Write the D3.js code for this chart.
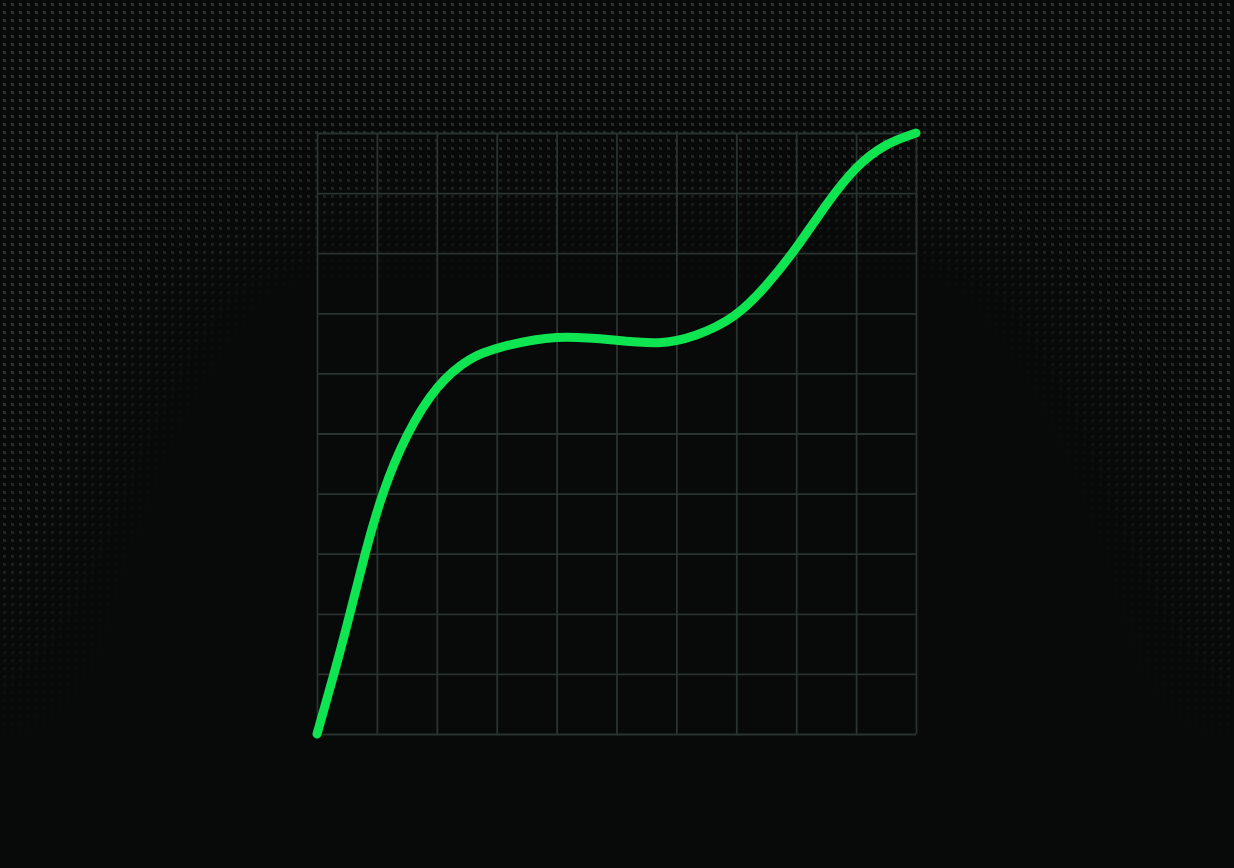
<!DOCTYPE html>
<html>
<head>
<meta charset="utf-8">
<script src="https://cdn.jsdelivr.net/npm/d3@7"></script>
<style>
  html, body { margin: 0; padding: 0; background: #080909; }
  svg { display: block; }
</style>
</head>
<body>
<div id="chart"></div>
<script>
// curve samples (grid units, 0..10 on both axes)
var xValues = [0, 0.35, 0.55, 0.8, 1.08, 1.49, 2.0, 2.55, 3, 4, 5, 5.72, 6.3, 7, 7.5, 8, 8.5, 9, 9.5, 10];
var yValues = [0, 1.23, 2.0, 3.0, 4.0, 5.0, 5.82, 6.27, 6.43, 6.65, 6.55, 6.48, 6.6, 6.93, 7.45, 8.07, 8.82, 9.46, 9.83, 10];
var gridTicks = [0, 1, 2, 3, 4, 5, 6, 7, 8, 9, 10];

var W = 1234, H = 868;
var margin = {top: 133, right: 318, bottom: 134, left: 317}
    , width = W - margin.left - margin.right
    , height = H - margin.top - margin.bottom;

var svg = d3.select('#chart')
    .append('svg')
    .attr('width', W)
    .attr('height', H);

var defs = svg.append('defs');

// dotted backdrop
var pat = defs.append('pattern')
    .attr('id', 'dots')
    .attr('patternUnits', 'userSpaceOnUse')
    .attr('width', 8)
    .attr('height', 8);
pat.append('rect')
    .attr('x', 3).attr('y', 3).attr('width', 3).attr('height', 3)
    .attr('fill', '#2b3432');

// fade from the top
var lin = defs.append('linearGradient')
    .attr('id', 'topFade')
    .attr('gradientUnits', 'userSpaceOnUse')
    .attr('x1', 0).attr('y1', 0).attr('x2', 0).attr('y2', H);
[[0, 1], [0.1, 1], [0.2, 0.55], [0.34, 0]].forEach(function (s) {
    lin.append('stop').attr('offset', s[0]).attr('stop-color', '#fff').attr('stop-opacity', s[1]);
});

// hole in the middle, dots kept at the sides
var rad = defs.append('radialGradient')
    .attr('id', 'sideFade')
    .attr('gradientUnits', 'userSpaceOnUse')
    .attr('cx', 617).attr('cy', 760).attr('r', 714)
    .attr('gradientTransform', 'translate(617,760) scale(1,1.245) translate(-617,-760)');
[[0, 0], [0.7, 0], [0.82, 0.45], [0.95, 1], [1, 1]].forEach(function (s) {
    rad.append('stop').attr('offset', s[0]).attr('stop-color', '#fff').attr('stop-opacity', s[1]);
});

var mask1 = defs.append('mask').attr('id', 'dotMask')
    .attr('maskUnits', 'userSpaceOnUse')
    .attr('x', 0).attr('y', 0).attr('width', W).attr('height', H);
mask1.append('rect').attr('width', W).attr('height', H).attr('fill', '#000');
mask1.append('rect').attr('width', W).attr('height', H).attr('fill', 'url(#topFade)');
mask1.append('rect').attr('width', W).attr('height', H).attr('fill', 'url(#sideFade)');

// fade out toward the bottom
var bot = defs.append('linearGradient')
    .attr('id', 'botFade')
    .attr('gradientUnits', 'userSpaceOnUse')
    .attr('x1', 0).attr('y1', 0).attr('x2', 0).attr('y2', H);
[[0, 1], [0.58, 1], [0.88, 0]].forEach(function (s) {
    bot.append('stop').attr('offset', s[0]).attr('stop-color', '#fff').attr('stop-opacity', s[1]);
});
var mask2 = defs.append('mask').attr('id', 'botMask')
    .attr('maskUnits', 'userSpaceOnUse')
    .attr('x', 0).attr('y', 0).attr('width', W).attr('height', H);
mask2.append('rect').attr('width', W).attr('height', H).attr('fill', 'url(#botFade)');

svg.append('g')
    .attr('mask', 'url(#botMask)')
    .append('g')
    .attr('mask', 'url(#dotMask)')
    .append('rect')
    .attr('width', W).attr('height', H)
    .attr('fill', 'url(#dots)');

var main = svg.append('g')
    .attr('transform', 'translate(' + margin.left + ',' + margin.top + ')');

var x = d3.scaleLinear()
    .domain([0, 10])
    .range([0, width]);

var y = d3.scaleLinear()
    .domain([0, 10])
    .range([height, 0]);

// grid through the axes
var xGrid = d3.axisBottom(x)
    .tickValues(gridTicks)
    .tickSize(-height)
    .tickFormat('');

var yGrid = d3.axisLeft(y)
    .tickValues(gridTicks)
    .tickSize(-width)
    .tickFormat('');

main.append('g')
    .attr('class', 'grid')
    .attr('transform', 'translate(0,' + height + ')')
    .call(xGrid);

main.append('g')
    .attr('class', 'grid')
    .call(yGrid);

main.selectAll('.grid .domain').remove();
main.selectAll('.grid line')
    .attr('stroke', '#293431')
    .attr('stroke-width', 1.8);

var data = xValues.map(function (v, i) { return {px: v, py: yValues[i]}; });

var line = d3.line()
    .x(function (d) { return x(d.px); })
    .y(function (d) { return y(d.py); })
    .curve(d3.curveBasis);

main.append('path')
    .datum(data)
    .attr('d', line)
    .attr('fill', 'none')
    .attr('stroke', '#0fe451')
    .attr('stroke-width', 9)
    .attr('stroke-linecap', 'round')
    .attr('stroke-linejoin', 'round');
</script>
</body>
</html>
